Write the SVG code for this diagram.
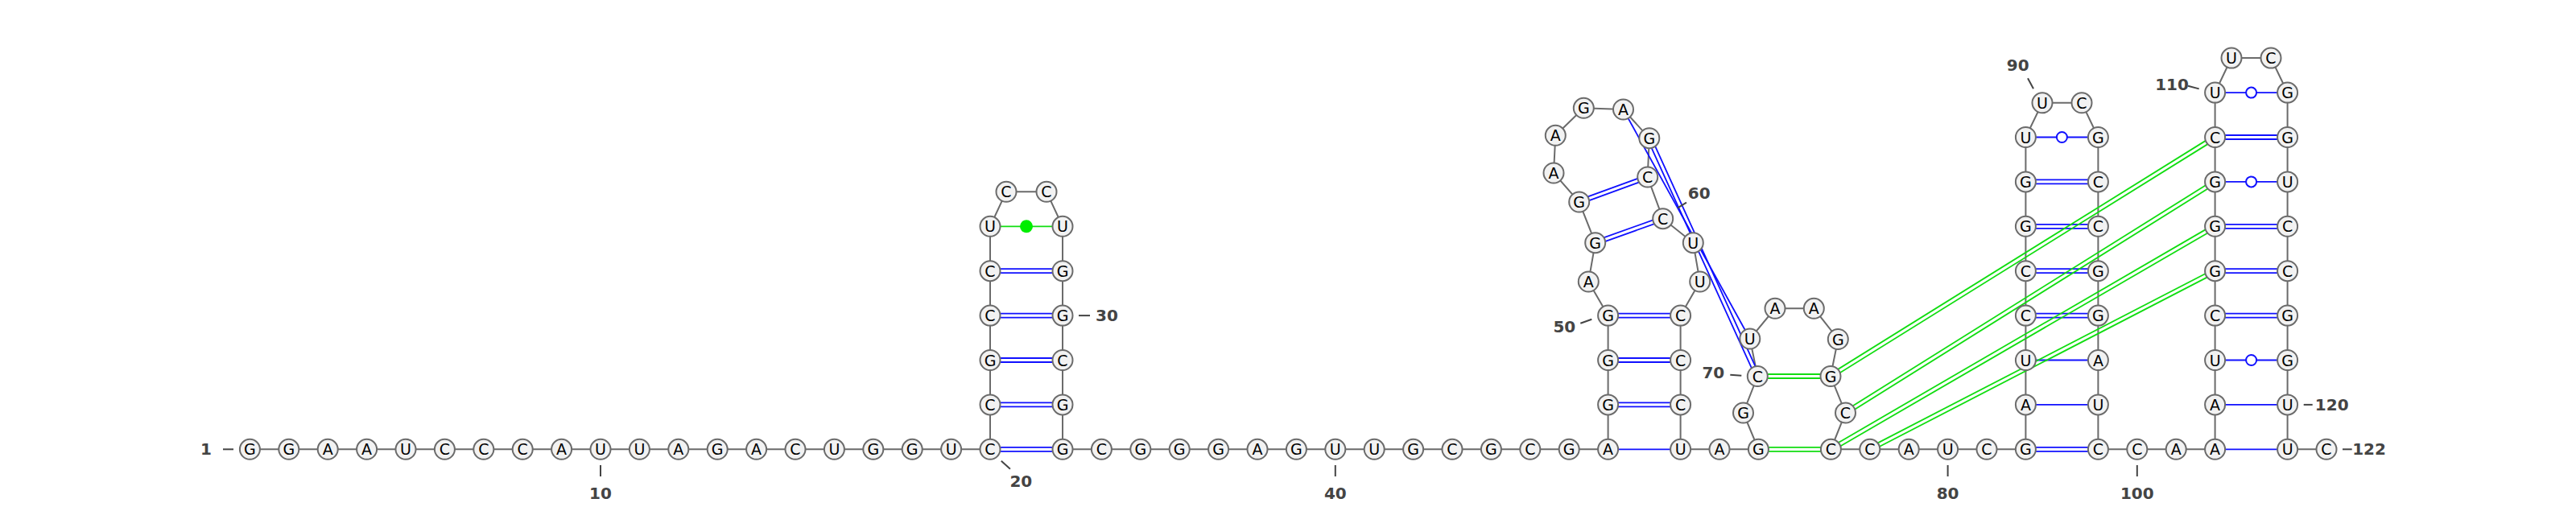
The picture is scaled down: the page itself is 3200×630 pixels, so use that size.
<svg xmlns="http://www.w3.org/2000/svg" width="3200" height="630" viewBox="0 0 3200 630">
<style>
.nt circle{fill:#f2f2f2;stroke:#6b6b6b;stroke-width:2}
.nt text{font-family:"DejaVu Sans",sans-serif;font-size:19px;fill:#000;text-anchor:middle;dominant-baseline:central}
.bb{fill:none;stroke:#6b6b6b;stroke-width:2}
.bp{fill:none;stroke:#1010ff;stroke-width:1.8}
.pk{fill:none;stroke:#11dd11;stroke-width:1.8}
.gu{fill:#fff;stroke:#1010ff;stroke-width:2}
.lb text{font-family:"DejaVu Sans",sans-serif;font-size:20px;font-weight:bold;fill:#444;text-anchor:middle;dominant-baseline:central}
.lb line{stroke:#444;stroke-width:2}
</style>
<rect width="3200" height="630" fill="#fff"/>
<g id="connectors">
<polyline class="bb" points="310.4,558.3 358.8,558.3 407.2,558.3 455.6,558.3 504,558.3 552.4,558.3 600.8,558.3 649.2,558.3 697.6,558.3 746,558.3 794.4,558.3 842.8,558.3 891.2,558.3 939.6,558.3 988,558.3 1036.4,558.3 1084.8,558.3 1133.2,558.3 1181.6,558.3 1230,558.3 1230,502.9 1230,447.5 1230,392.1 1230,336.7 1230,281.3 1250,238.3 1300,238.3 1320,281.3 1320,336.7 1320,392.1 1320,447.5 1320,502.9 1320,558.3 1368.4,558.3 1416.8,558.3 1465.2,558.3 1513.6,558.3 1562,558.3 1610.4,558.3 1658.8,558.3 1707.2,558.3 1755.6,558.3 1804,558.3 1852.4,558.3 1900.8,558.3 1949.2,558.3 1997.6,558.3 1997.6,502.9 1997.6,447.5 1997.6,392.1 1973.3,350 1981.7,301.7 1961.7,251 1930,215 1932.3,168.3 1967.3,134.3 2016.5,136 2048.8,171.7 2046.7,220 2065.7,271.7 2103.3,301.7 2111.7,350 2087.6,392.1 2087.6,447.5 2087.6,502.9 2087.6,558.3 2136,558.3 2184.4,558.3 2165.5,513 2183.3,467.5 2173.8,421 2205,383.3 2253.3,383.3 2283.3,421.5 2274,467.5 2292.5,513 2274.4,558.3 2322.8,558.3 2371.2,558.3 2419.6,558.3 2468,558.3 2516.4,558.3 2516.4,502.9 2516.4,447.5 2516.4,392.1 2516.4,336.7 2516.4,281.3 2516.4,225.9 2516.4,170.5 2537,127.8 2586,127.8 2606.4,170.5 2606.4,225.9 2606.4,281.3 2606.4,336.7 2606.4,392.1 2606.4,447.5 2606.4,502.9 2606.4,558.3 2654.8,558.3 2703.2,558.3 2751.6,558.3 2751.6,502.9 2751.6,447.5 2751.6,392.1 2751.6,336.7 2751.6,281.3 2751.6,225.9 2751.6,170.5 2751.6,115.1 2772,72.1 2821,72.1 2841.6,115.1 2841.6,170.5 2841.6,225.9 2841.6,281.3 2841.6,336.7 2841.6,392.1 2841.6,447.5 2841.6,502.9 2841.6,558.3 2890,558.3"/>
<!-- blue double pairs -->
<path class="bp" d="M1230 555.8H1320M1230 560.8H1320 M1230 500.4H1320M1230 505.4H1320 M1230 445H1320M1230 450H1320 M1230 389.6H1320M1230 394.6H1320 M1230 334.2H1320M1230 339.2H1320"/>
<path class="bp" d="M1997.6 500.4H2087.6M1997.6 505.4H2087.6 M1997.6 445H2087.6M1997.6 450H2087.6 M1997.6 389.6H2087.6M1997.6 394.6H2087.6"/>
<path class="bp" d="M1962.56 253.35L2047.56 222.35M1960.84 248.65L2045.84 217.65 M1982.54 304.05L2066.54 274.05M1980.86 299.35L2064.86 269.35"/>
<path class="bp" d="M2051.08 170.67L2185.58 466.47M2046.52 172.74L2181.02 468.54"/>
<path class="bp" d="M2016.5 136L2173.8 421"/>
<path class="bp" d="M1997.6 558.3H2087.6"/>
<path class="bp" d="M2516.4 555.8H2606.4M2516.4 560.8H2606.4 M2516.4 389.6H2606.4M2516.4 394.6H2606.4 M2516.4 334.2H2606.4M2516.4 339.2H2606.4 M2516.4 278.8H2606.4M2516.4 283.8H2606.4 M2516.4 223.4H2606.4M2516.4 228.4H2606.4"/>
<path class="bp" d="M2516.4 502.9H2606.4 M2516.4 447.5H2606.4 M2516.4 170.5H2606.4"/>
<path class="bp" d="M2751.6 389.6H2841.6M2751.6 394.6H2841.6 M2751.6 334.2H2841.6M2751.6 339.2H2841.6 M2751.6 278.8H2841.6M2751.6 283.8H2841.6 M2751.6 168H2841.6M2751.6 173H2841.6"/>
<path class="bp" d="M2751.6 558.3H2841.6 M2751.6 502.9H2841.6 M2751.6 447.5H2841.6 M2751.6 225.9H2841.6 M2751.6 115.1H2841.6"/>
<circle class="gu" cx="2561.4" cy="170.5" r="6.5"/>
<circle class="gu" cx="2796.6" cy="447.5" r="6.5"/>
<circle class="gu" cx="2796.6" cy="225.9" r="6.5"/>
<circle class="gu" cx="2796.6" cy="115.1" r="6.5"/>
<!-- green pairs -->
<path class="pk" d="M1230 281.3H1320"/>
<circle cx="1275" cy="281.3" r="8" fill="#00ee00"/>
<path class="pk" d="M2184.4 555.8H2274.4M2184.4 560.8H2274.4 M2183.3 465H2274M2183.3 470H2274"/>
<path class="pk" d="M2275.32 469.62L2752.92 172.62M2272.68 465.38L2750.28 168.38 M2293.83 515.12L2752.93 228.02M2291.18 510.88L2750.28 223.78 M2275.66 560.46L2752.86 283.46M2273.15 556.14L2750.35 279.14 M2323.95 560.52L2752.75 338.92M2321.65 556.08L2750.45 334.48"/>
</g>
<g id="nodes">
<g id="n1" class="nt"><circle cx="310.4" cy="558.3" r="12.5"/><text x="310.4" y="558.3">G</text></g>
<g id="n2" class="nt"><circle cx="358.8" cy="558.3" r="12.5"/><text x="358.8" y="558.3">G</text></g>
<g id="n3" class="nt"><circle cx="407.2" cy="558.3" r="12.5"/><text x="407.2" y="558.3">A</text></g>
<g id="n4" class="nt"><circle cx="455.6" cy="558.3" r="12.5"/><text x="455.6" y="558.3">A</text></g>
<g id="n5" class="nt"><circle cx="504" cy="558.3" r="12.5"/><text x="504" y="558.3">U</text></g>
<g id="n6" class="nt"><circle cx="552.4" cy="558.3" r="12.5"/><text x="552.4" y="558.3">C</text></g>
<g id="n7" class="nt"><circle cx="600.8" cy="558.3" r="12.5"/><text x="600.8" y="558.3">C</text></g>
<g id="n8" class="nt"><circle cx="649.2" cy="558.3" r="12.5"/><text x="649.2" y="558.3">C</text></g>
<g id="n9" class="nt"><circle cx="697.6" cy="558.3" r="12.5"/><text x="697.6" y="558.3">A</text></g>
<g id="n10" class="nt"><circle cx="746" cy="558.3" r="12.5"/><text x="746" y="558.3">U</text></g>
<g id="n11" class="nt"><circle cx="794.4" cy="558.3" r="12.5"/><text x="794.4" y="558.3">U</text></g>
<g id="n12" class="nt"><circle cx="842.8" cy="558.3" r="12.5"/><text x="842.8" y="558.3">A</text></g>
<g id="n13" class="nt"><circle cx="891.2" cy="558.3" r="12.5"/><text x="891.2" y="558.3">G</text></g>
<g id="n14" class="nt"><circle cx="939.6" cy="558.3" r="12.5"/><text x="939.6" y="558.3">A</text></g>
<g id="n15" class="nt"><circle cx="988" cy="558.3" r="12.5"/><text x="988" y="558.3">C</text></g>
<g id="n16" class="nt"><circle cx="1036.4" cy="558.3" r="12.5"/><text x="1036.4" y="558.3">U</text></g>
<g id="n17" class="nt"><circle cx="1084.8" cy="558.3" r="12.5"/><text x="1084.8" y="558.3">G</text></g>
<g id="n18" class="nt"><circle cx="1133.2" cy="558.3" r="12.5"/><text x="1133.2" y="558.3">G</text></g>
<g id="n19" class="nt"><circle cx="1181.6" cy="558.3" r="12.5"/><text x="1181.6" y="558.3">U</text></g>
<g id="n20" class="nt"><circle cx="1230" cy="558.3" r="12.5"/><text x="1230" y="558.3">C</text></g>
<g id="n21" class="nt"><circle cx="1230" cy="502.9" r="12.5"/><text x="1230" y="502.9">C</text></g>
<g id="n22" class="nt"><circle cx="1230" cy="447.5" r="12.5"/><text x="1230" y="447.5">G</text></g>
<g id="n23" class="nt"><circle cx="1230" cy="392.1" r="12.5"/><text x="1230" y="392.1">C</text></g>
<g id="n24" class="nt"><circle cx="1230" cy="336.7" r="12.5"/><text x="1230" y="336.7">C</text></g>
<g id="n25" class="nt"><circle cx="1230" cy="281.3" r="12.5"/><text x="1230" y="281.3">U</text></g>
<g id="n26" class="nt"><circle cx="1250" cy="238.3" r="12.5"/><text x="1250" y="238.3">C</text></g>
<g id="n27" class="nt"><circle cx="1300" cy="238.3" r="12.5"/><text x="1300" y="238.3">C</text></g>
<g id="n28" class="nt"><circle cx="1320" cy="281.3" r="12.5"/><text x="1320" y="281.3">U</text></g>
<g id="n29" class="nt"><circle cx="1320" cy="336.7" r="12.5"/><text x="1320" y="336.7">G</text></g>
<g id="n30" class="nt"><circle cx="1320" cy="392.1" r="12.5"/><text x="1320" y="392.1">G</text></g>
<g id="n31" class="nt"><circle cx="1320" cy="447.5" r="12.5"/><text x="1320" y="447.5">C</text></g>
<g id="n32" class="nt"><circle cx="1320" cy="502.9" r="12.5"/><text x="1320" y="502.9">G</text></g>
<g id="n33" class="nt"><circle cx="1320" cy="558.3" r="12.5"/><text x="1320" y="558.3">G</text></g>
<g id="n34" class="nt"><circle cx="1368.4" cy="558.3" r="12.5"/><text x="1368.4" y="558.3">C</text></g>
<g id="n35" class="nt"><circle cx="1416.8" cy="558.3" r="12.5"/><text x="1416.8" y="558.3">G</text></g>
<g id="n36" class="nt"><circle cx="1465.2" cy="558.3" r="12.5"/><text x="1465.2" y="558.3">G</text></g>
<g id="n37" class="nt"><circle cx="1513.6" cy="558.3" r="12.5"/><text x="1513.6" y="558.3">G</text></g>
<g id="n38" class="nt"><circle cx="1562" cy="558.3" r="12.5"/><text x="1562" y="558.3">A</text></g>
<g id="n39" class="nt"><circle cx="1610.4" cy="558.3" r="12.5"/><text x="1610.4" y="558.3">G</text></g>
<g id="n40" class="nt"><circle cx="1658.8" cy="558.3" r="12.5"/><text x="1658.8" y="558.3">U</text></g>
<g id="n41" class="nt"><circle cx="1707.2" cy="558.3" r="12.5"/><text x="1707.2" y="558.3">U</text></g>
<g id="n42" class="nt"><circle cx="1755.6" cy="558.3" r="12.5"/><text x="1755.6" y="558.3">G</text></g>
<g id="n43" class="nt"><circle cx="1804" cy="558.3" r="12.5"/><text x="1804" y="558.3">C</text></g>
<g id="n44" class="nt"><circle cx="1852.4" cy="558.3" r="12.5"/><text x="1852.4" y="558.3">G</text></g>
<g id="n45" class="nt"><circle cx="1900.8" cy="558.3" r="12.5"/><text x="1900.8" y="558.3">C</text></g>
<g id="n46" class="nt"><circle cx="1949.2" cy="558.3" r="12.5"/><text x="1949.2" y="558.3">G</text></g>
<g id="n47" class="nt"><circle cx="1997.6" cy="558.3" r="12.5"/><text x="1997.6" y="558.3">A</text></g>
<g id="n48" class="nt"><circle cx="1997.6" cy="502.9" r="12.5"/><text x="1997.6" y="502.9">G</text></g>
<g id="n49" class="nt"><circle cx="1997.6" cy="447.5" r="12.5"/><text x="1997.6" y="447.5">G</text></g>
<g id="n50" class="nt"><circle cx="1997.6" cy="392.1" r="12.5"/><text x="1997.6" y="392.1">G</text></g>
<g id="n51" class="nt"><circle cx="1973.3" cy="350" r="12.5"/><text x="1973.3" y="350">A</text></g>
<g id="n52" class="nt"><circle cx="1981.7" cy="301.7" r="12.5"/><text x="1981.7" y="301.7">G</text></g>
<g id="n53" class="nt"><circle cx="1961.7" cy="251" r="12.5"/><text x="1961.7" y="251">G</text></g>
<g id="n54" class="nt"><circle cx="1930" cy="215" r="12.5"/><text x="1930" y="215">A</text></g>
<g id="n55" class="nt"><circle cx="1932.3" cy="168.3" r="12.5"/><text x="1932.3" y="168.3">A</text></g>
<g id="n56" class="nt"><circle cx="1967.3" cy="134.3" r="12.5"/><text x="1967.3" y="134.3">G</text></g>
<g id="n57" class="nt"><circle cx="2016.5" cy="136" r="12.5"/><text x="2016.5" y="136">A</text></g>
<g id="n58" class="nt"><circle cx="2048.8" cy="171.7" r="12.5"/><text x="2048.8" y="171.7">G</text></g>
<g id="n59" class="nt"><circle cx="2046.7" cy="220" r="12.5"/><text x="2046.7" y="220">C</text></g>
<g id="n60" class="nt"><circle cx="2065.7" cy="271.7" r="12.5"/><text x="2065.7" y="271.7">C</text></g>
<g id="n61" class="nt"><circle cx="2103.3" cy="301.7" r="12.5"/><text x="2103.3" y="301.7">U</text></g>
<g id="n62" class="nt"><circle cx="2111.7" cy="350" r="12.5"/><text x="2111.7" y="350">U</text></g>
<g id="n63" class="nt"><circle cx="2087.6" cy="392.1" r="12.5"/><text x="2087.6" y="392.1">C</text></g>
<g id="n64" class="nt"><circle cx="2087.6" cy="447.5" r="12.5"/><text x="2087.6" y="447.5">C</text></g>
<g id="n65" class="nt"><circle cx="2087.6" cy="502.9" r="12.5"/><text x="2087.6" y="502.9">C</text></g>
<g id="n66" class="nt"><circle cx="2087.6" cy="558.3" r="12.5"/><text x="2087.6" y="558.3">U</text></g>
<g id="n67" class="nt"><circle cx="2136" cy="558.3" r="12.5"/><text x="2136" y="558.3">A</text></g>
<g id="n68" class="nt"><circle cx="2184.4" cy="558.3" r="12.5"/><text x="2184.4" y="558.3">G</text></g>
<g id="n69" class="nt"><circle cx="2165.5" cy="513" r="12.5"/><text x="2165.5" y="513">G</text></g>
<g id="n70" class="nt"><circle cx="2183.3" cy="467.5" r="12.5"/><text x="2183.3" y="467.5">C</text></g>
<g id="n71" class="nt"><circle cx="2173.8" cy="421" r="12.5"/><text x="2173.8" y="421">U</text></g>
<g id="n72" class="nt"><circle cx="2205" cy="383.3" r="12.5"/><text x="2205" y="383.3">A</text></g>
<g id="n73" class="nt"><circle cx="2253.3" cy="383.3" r="12.5"/><text x="2253.3" y="383.3">A</text></g>
<g id="n74" class="nt"><circle cx="2283.3" cy="421.5" r="12.5"/><text x="2283.3" y="421.5">G</text></g>
<g id="n75" class="nt"><circle cx="2274" cy="467.5" r="12.5"/><text x="2274" y="467.5">G</text></g>
<g id="n76" class="nt"><circle cx="2292.5" cy="513" r="12.5"/><text x="2292.5" y="513">C</text></g>
<g id="n77" class="nt"><circle cx="2274.4" cy="558.3" r="12.5"/><text x="2274.4" y="558.3">C</text></g>
<g id="n78" class="nt"><circle cx="2322.8" cy="558.3" r="12.5"/><text x="2322.8" y="558.3">C</text></g>
<g id="n79" class="nt"><circle cx="2371.2" cy="558.3" r="12.5"/><text x="2371.2" y="558.3">A</text></g>
<g id="n80" class="nt"><circle cx="2419.6" cy="558.3" r="12.5"/><text x="2419.6" y="558.3">U</text></g>
<g id="n81" class="nt"><circle cx="2468" cy="558.3" r="12.5"/><text x="2468" y="558.3">C</text></g>
<g id="n82" class="nt"><circle cx="2516.4" cy="558.3" r="12.5"/><text x="2516.4" y="558.3">G</text></g>
<g id="n83" class="nt"><circle cx="2516.4" cy="502.9" r="12.5"/><text x="2516.4" y="502.9">A</text></g>
<g id="n84" class="nt"><circle cx="2516.4" cy="447.5" r="12.5"/><text x="2516.4" y="447.5">U</text></g>
<g id="n85" class="nt"><circle cx="2516.4" cy="392.1" r="12.5"/><text x="2516.4" y="392.1">C</text></g>
<g id="n86" class="nt"><circle cx="2516.4" cy="336.7" r="12.5"/><text x="2516.4" y="336.7">C</text></g>
<g id="n87" class="nt"><circle cx="2516.4" cy="281.3" r="12.5"/><text x="2516.4" y="281.3">G</text></g>
<g id="n88" class="nt"><circle cx="2516.4" cy="225.9" r="12.5"/><text x="2516.4" y="225.9">G</text></g>
<g id="n89" class="nt"><circle cx="2516.4" cy="170.5" r="12.5"/><text x="2516.4" y="170.5">U</text></g>
<g id="n90" class="nt"><circle cx="2537" cy="127.8" r="12.5"/><text x="2537" y="127.8">U</text></g>
<g id="n91" class="nt"><circle cx="2586" cy="127.8" r="12.5"/><text x="2586" y="127.8">C</text></g>
<g id="n92" class="nt"><circle cx="2606.4" cy="170.5" r="12.5"/><text x="2606.4" y="170.5">G</text></g>
<g id="n93" class="nt"><circle cx="2606.4" cy="225.9" r="12.5"/><text x="2606.4" y="225.9">C</text></g>
<g id="n94" class="nt"><circle cx="2606.4" cy="281.3" r="12.5"/><text x="2606.4" y="281.3">C</text></g>
<g id="n95" class="nt"><circle cx="2606.4" cy="336.7" r="12.5"/><text x="2606.4" y="336.7">G</text></g>
<g id="n96" class="nt"><circle cx="2606.4" cy="392.1" r="12.5"/><text x="2606.4" y="392.1">G</text></g>
<g id="n97" class="nt"><circle cx="2606.4" cy="447.5" r="12.5"/><text x="2606.4" y="447.5">A</text></g>
<g id="n98" class="nt"><circle cx="2606.4" cy="502.9" r="12.5"/><text x="2606.4" y="502.9">U</text></g>
<g id="n99" class="nt"><circle cx="2606.4" cy="558.3" r="12.5"/><text x="2606.4" y="558.3">C</text></g>
<g id="n100" class="nt"><circle cx="2654.8" cy="558.3" r="12.5"/><text x="2654.8" y="558.3">C</text></g>
<g id="n101" class="nt"><circle cx="2703.2" cy="558.3" r="12.5"/><text x="2703.2" y="558.3">A</text></g>
<g id="n102" class="nt"><circle cx="2751.6" cy="558.3" r="12.5"/><text x="2751.6" y="558.3">A</text></g>
<g id="n103" class="nt"><circle cx="2751.6" cy="502.9" r="12.5"/><text x="2751.6" y="502.9">A</text></g>
<g id="n104" class="nt"><circle cx="2751.6" cy="447.5" r="12.5"/><text x="2751.6" y="447.5">U</text></g>
<g id="n105" class="nt"><circle cx="2751.6" cy="392.1" r="12.5"/><text x="2751.6" y="392.1">C</text></g>
<g id="n106" class="nt"><circle cx="2751.6" cy="336.7" r="12.5"/><text x="2751.6" y="336.7">G</text></g>
<g id="n107" class="nt"><circle cx="2751.6" cy="281.3" r="12.5"/><text x="2751.6" y="281.3">G</text></g>
<g id="n108" class="nt"><circle cx="2751.6" cy="225.9" r="12.5"/><text x="2751.6" y="225.9">G</text></g>
<g id="n109" class="nt"><circle cx="2751.6" cy="170.5" r="12.5"/><text x="2751.6" y="170.5">C</text></g>
<g id="n110" class="nt"><circle cx="2751.6" cy="115.1" r="12.5"/><text x="2751.6" y="115.1">U</text></g>
<g id="n111" class="nt"><circle cx="2772" cy="72.1" r="12.5"/><text x="2772" y="72.1">U</text></g>
<g id="n112" class="nt"><circle cx="2821" cy="72.1" r="12.5"/><text x="2821" y="72.1">C</text></g>
<g id="n113" class="nt"><circle cx="2841.6" cy="115.1" r="12.5"/><text x="2841.6" y="115.1">G</text></g>
<g id="n114" class="nt"><circle cx="2841.6" cy="170.5" r="12.5"/><text x="2841.6" y="170.5">G</text></g>
<g id="n115" class="nt"><circle cx="2841.6" cy="225.9" r="12.5"/><text x="2841.6" y="225.9">U</text></g>
<g id="n116" class="nt"><circle cx="2841.6" cy="281.3" r="12.5"/><text x="2841.6" y="281.3">C</text></g>
<g id="n117" class="nt"><circle cx="2841.6" cy="336.7" r="12.5"/><text x="2841.6" y="336.7">C</text></g>
<g id="n118" class="nt"><circle cx="2841.6" cy="392.1" r="12.5"/><text x="2841.6" y="392.1">G</text></g>
<g id="n119" class="nt"><circle cx="2841.6" cy="447.5" r="12.5"/><text x="2841.6" y="447.5">G</text></g>
<g id="n120" class="nt"><circle cx="2841.6" cy="502.9" r="12.5"/><text x="2841.6" y="502.9">U</text></g>
<g id="n121" class="nt"><circle cx="2841.6" cy="558.3" r="12.5"/><text x="2841.6" y="558.3">U</text></g>
<g id="n122" class="nt"><circle cx="2890" cy="558.3" r="12.5"/><text x="2890" y="558.3">C</text></g>
</g>
<g id="labels" class="lb">
<line x1="277" y1="558.3" x2="290" y2="558.3"/><text x="256" y="558.3">1</text>
<line x1="746" y1="578" x2="746" y2="592"/><text x="746" y="613">10</text>
<line x1="1243.8" y1="572.7" x2="1254.9" y2="582.7"/><text x="1268.3" y="598.3">20</text>
<line x1="1340" y1="392.1" x2="1354" y2="392.1"/><text x="1375" y="392.1">30</text>
<line x1="1658.8" y1="578" x2="1658.8" y2="592"/><text x="1658.8" y="613">40</text>
<line x1="1963.3" y1="401.7" x2="1977.3" y2="396.7"/><text x="1943.3" y="406">50</text>
<line x1="2084" y1="258.3" x2="2095" y2="251.7"/><text x="2110.7" y="240">60</text>
<line x1="2149.3" y1="465.7" x2="2163.3" y2="466.7"/><text x="2128.3" y="463.3">70</text>
<line x1="2419.6" y1="578" x2="2419.6" y2="592"/><text x="2419.6" y="613">80</text>
<line x1="2519" y1="97.3" x2="2526" y2="110.2"/><text x="2506.7" y="81.1">90</text>
<line x1="2654.8" y1="578" x2="2654.8" y2="592"/><text x="2654.8" y="613">100</text>
<line x1="2718" y1="106.8" x2="2731.7" y2="110.4"/><text x="2698" y="105">110</text>
<line x1="2861.7" y1="502.9" x2="2872.7" y2="502.9"/><text x="2896.7" y="502.9">120</text>
<line x1="2910" y1="558.3" x2="2921.7" y2="558.3"/><text x="2943" y="558.3">122</text>
</g>
</svg>
